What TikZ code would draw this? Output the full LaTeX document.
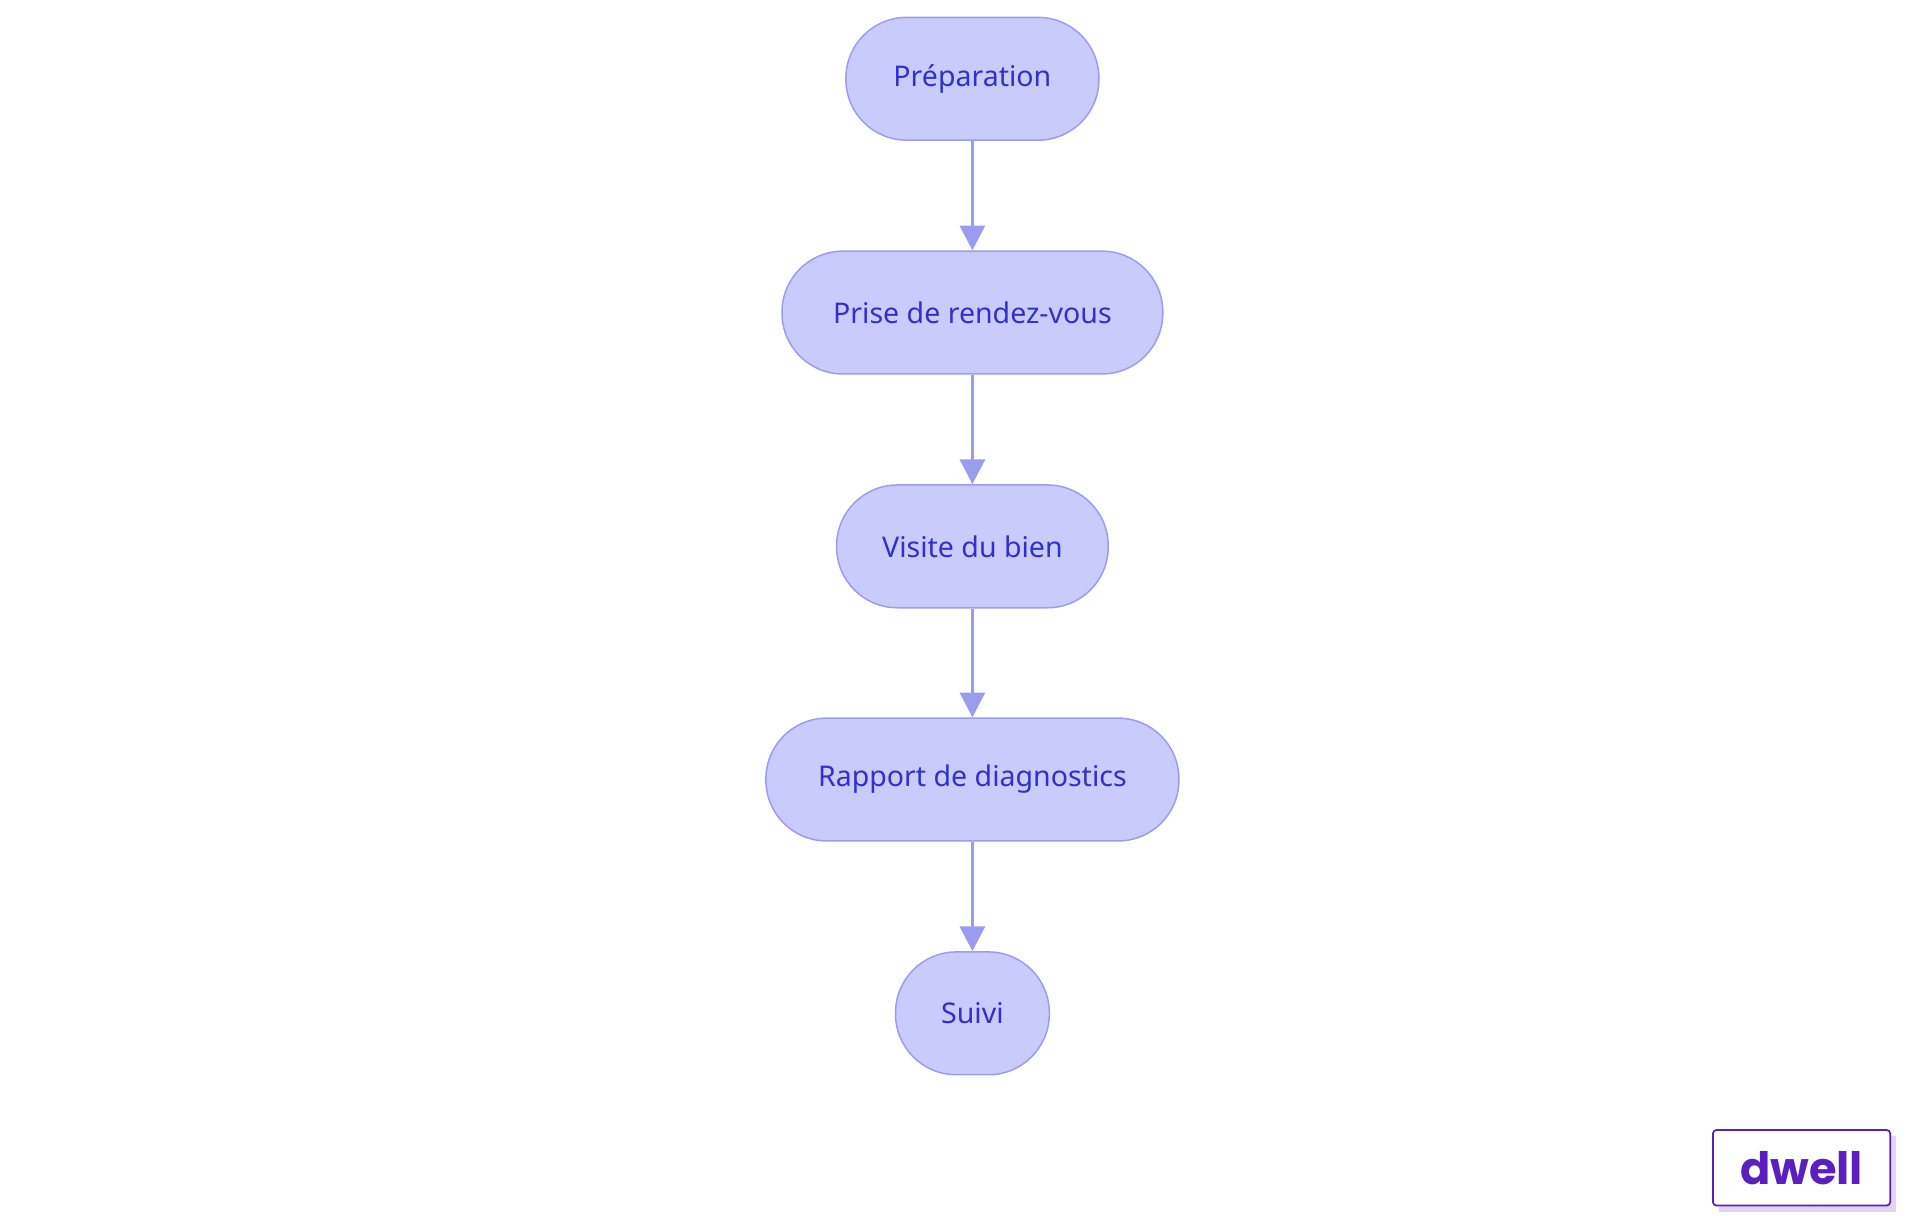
\documentclass[tikz,border=0pt]{standalone}
\usepackage{fontspec}
\setmainfont{Noto Sans}
\newfontfamily\logofont{Poppins}
\usetikzlibrary{arrows.meta}
\definecolor{nfill}{HTML}{CACBFD}
\definecolor{nline}{HTML}{9A9CEF}
\definecolor{ntext}{HTML}{3030CC}
\definecolor{logo}{HTML}{5B1FBF}
\definecolor{shad}{HTML}{E3D3F7}
\begin{document}
\begin{tikzpicture}[x=0.5pt,y=-0.5pt,
  stepbox/.style={draw=nline,fill=nfill,line width=0.6pt,rounded corners=24.5pt,minimum height=49.5pt,inner sep=0pt,text=ntext,font=\fontsize{11.5}{14}\selectfont},
  conn/.style={draw=nline,line width=1.5pt,-{Triangle[length=10pt,width=10pt]}}]
\useasboundingbox (0,0) rectangle (1548,980);
\node[stepbox,minimum width=102pt] (a) at (784,63.5) {Préparation};
\node[stepbox,minimum width=153.5pt] (b) at (784,252) {Prise de rendez-vous};
\node[stepbox,minimum width=109.5pt] (c) at (784,440.5) {Visite du bien};
\node[stepbox,minimum width=166.5pt] (d) at (784,628.5) {Rapport de diagnostics};
\node[stepbox,minimum width=62pt] (e) at (784,817) {Suivi};
\draw[conn] (a) -- (b);
\draw[conn] (b) -- (c);
\draw[conn] (c) -- (d);
\draw[conn] (d) -- (e);
\fill[shad] (1386,916) rectangle (1529,977);
\node[draw=logo,fill=white,line width=0.7pt,rounded corners=1.5pt,minimum width=71.5pt,minimum height=30.5pt,inner sep=0pt,text=logo,font=\logofont\bfseries\fontsize{18}{20}\selectfont] (logo) at (1452.5,941.5) {dwell};
\end{tikzpicture}
\end{document}
